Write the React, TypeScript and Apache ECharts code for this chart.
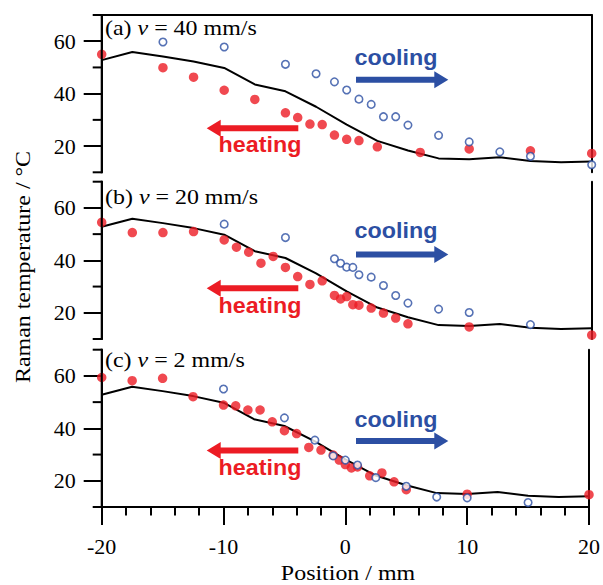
import React, { useEffect, useRef } from "react";
import * as echarts from "echarts";

// Axis ranges
const X_MIN = -20;
const X_MAX = 20;
const Y_MIN = 10;
const Y_MAX = 70;

// Simulation (black line), same in all panels
const simX = [-20, -17.5, -15, -12.5, -10, -7.5, -5, -2.5, 0, 2.5, 5, 7.5, 10, 12.5, 15, 17.5, 20];
const simT = [52.8, 55.9, 54.2, 52.3, 49.8, 43.5, 40.9, 35.0, 28.2, 22.0, 18.3, 15.3, 15.0, 15.7, 14.3, 13.8, 14.1];

// Panel (a) v = 40 mm/s
const heatAX = [-20, -15, -12.5, -10, -7.5, -5, -4, -3, -2, -1, 0, 1, 2.5, 6, 10, 15, 20];
const heatAT = [55.0, 49.9, 46.3, 41.3, 37.8, 32.7, 30.9, 28.4, 28.2, 24.2, 22.6, 22.1, 19.7, 17.6, 18.9, 18.2, 17.2];
const coolAX = [-15, -10, -5, -2.5, -1, 0, 1, 2, 3, 4, 5, 7.5, 10, 12.5, 15, 20];
const coolAT = [59.7, 57.8, 51.2, 47.6, 44.5, 41.4, 37.9, 35.9, 31.2, 31.2, 28.0, 24.1, 21.6, 17.8, 16.1, 12.9];

// Panel (b) v = 20 mm/s
const heatBX = [-20, -17.5, -15, -12.5, -10, -9, -8, -7, -6, -5, -4, -3, -2, -1, -0.5, 0, 0.5, 1, 2, 3, 4, 5, 10, 20];
const heatBT = [54.5, 50.6, 50.6, 51.0, 47.8, 45.0, 43.1, 38.9, 41.5, 37.3, 33.8, 30.8, 32.2, 26.6, 25.3, 26.2, 23.1, 22.9, 21.8, 19.9, 18.0, 15.8, 14.6, 11.5];
const coolBX = [-10, -5, -1, -0.5, 0, 0.5, 1, 2, 3, 4, 5, 7.5, 10, 15];
const coolBT = [53.8, 48.7, 40.6, 38.9, 37.4, 37.3, 34.5, 33.6, 30.4, 26.6, 23.7, 21.4, 20.1, 15.5];

// Panel (c) v = 2 mm/s
const heatCX = [-20, -17.5, -15, -12.5, -10, -9, -8, -7, -6, -5, -4, -3, -2, -1, -0.5, 0, 0.5, 1, 2, 3, 4, 5, 10, 20];
const heatCT = [59.4, 58.2, 59.1, 52.1, 48.9, 48.6, 47.0, 47.0, 42.5, 39.1, 38.0, 32.7, 31.7, 29.8, 27.9, 26.2, 24.9, 25.3, 21.9, 23.0, 19.6, 16.6, 14.9, 14.7];
const coolCX = [-10, -5, -2.5, -1, 0, 1, 2.5, 5, 7.5, 10, 15];
const coolCT = [55.0, 44.0, 35.5, 29.5, 27.9, 26.0, 21.2, 17.9, 13.8, 13.5, 11.7];

const panelLabels = ["(a) ", "(b) ", "(c) "];
const speeds = [" = 40 mm/s", " = 20 mm/s", " = 2 mm/s"];
const yTickLabels = [20, 40, 60];
const yMinorTicks = [10, 30, 50, 70];
const xTickLabels = [-20, -10, 0, 10, 20];

const heatingSets = [[heatAX, heatAT], [heatBX, heatBT], [heatCX, heatCT]];
const coolingSets = [[coolAX, coolAT], [coolBX, coolBT], [coolCX, coolCT]];

const RED = "#ec1c24";
const BLUE = "#2c4fa3";
const SERIF = "Liberation Serif";
const SANS = "Liberation Sans";

const GRID_LEFT = 101.7;
const GRID_W = 490;
const GRID_H = 157.3;
const GRID_TOPS = [15, 181.7, 349.7];
// annotation vertical positions per panel (pixel centres)
const ANN = [
  { cool: 57.4, blue: 79.7, red: 128.3, heat: 144.1, label: 28.0 },
  { cool: 230.7, blue: 254.5, red: 288.3, heat: 305.7, label: 196.9 },
  { cool: 419.0, blue: 441.0, red: 450.5, heat: 467.4, label: 359.9 },
];

function zip(xs: number[], ys: number[]) {
  return xs.map((x, i) => [x, ys[i]]);
}

function arrow(tail: number, tip: number, y: number, color: string) {
  const dir = tip > tail ? 1 : -1;
  const headLen = 14;
  const halfShaft = 3;
  const halfHead = 8.5;
  const base = tip - dir * headLen;
  return {
    type: "polygon",
    shape: {
      points: [
        [tail, y - halfShaft],
        [base, y - halfShaft],
        [base, y - halfHead],
        [tip, y],
        [base, y + halfHead],
        [base, y + halfShaft],
        [tail, y + halfShaft],
      ],
    },
    style: { fill: color },
    silent: true,
  };
}

const mkLine = () => ({ show: true, onZero: false, lineStyle: { color: "#000", width: 2 } });
const mkTickStyle = () => ({ color: "#000", width: 2 });

export default function App() {
  const ref = useRef<HTMLDivElement>(null);
  useEffect(() => {
    if (!ref.current) return;
    const chart = echarts.init(ref.current, undefined, { renderer: "svg" });

    const grid = GRID_TOPS.map((t) => ({ left: GRID_LEFT, top: t, width: GRID_W, height: GRID_H }));

    const xAxis: any[] = [];
    for (let i = 0; i < 3; i++) {
      const bottom = i === 2;
      xAxis.push({
        gridIndex: i,
        type: "value",
        min: X_MIN,
        max: X_MAX,
        interval: 2,
        position: "bottom",
        axisLine: bottom ? mkLine() : { show: false, onZero: false },
        axisTick: { show: bottom, length: 8.5, lineStyle: mkTickStyle() },
        axisLabel: { show: false },
        splitLine: { show: false },
      });
    }
    xAxis.push({
      gridIndex: 2,
      type: "value",
      min: X_MIN,
      max: X_MAX,
      interval: 10,
      position: "bottom",
      axisLine: { show: false, onZero: false },
      axisTick: { show: true, length: 18, lineStyle: mkTickStyle() },
      axisLabel: {
        show: true,
        margin: 28,
        fontFamily: SERIF,
        fontSize: 22,
        color: "#000",
        customValues: xTickLabels,
      },
      splitLine: { show: false },
    });
    xAxis.push({
      gridIndex: 0,
      type: "value",
      min: X_MIN,
      max: X_MAX,
      position: "top",
      axisLine: mkLine(),
      axisTick: { show: false },
      axisLabel: { show: false },
      splitLine: { show: false },
    });

    const yAxis: any[] = [];
    for (let i = 0; i < 3; i++) {
      yAxis.push({
        gridIndex: i,
        type: "value",
        min: Y_MIN,
        max: Y_MAX,
        interval: 10,
        position: "left",
        axisLine: mkLine(),
        axisTick: { show: true, length: 18, lineStyle: mkTickStyle(), customValues: yTickLabels },
        axisLabel: {
          show: true,
          margin: 26,
          fontFamily: SERIF,
          fontSize: 22,
          color: "#000",
          customValues: yTickLabels,
        },
        splitLine: { show: false },
      });
      yAxis.push({
        gridIndex: i,
        type: "value",
        min: Y_MIN,
        max: Y_MAX,
        position: "right",
        axisLine: mkLine(),
        axisTick: { show: false },
        axisLabel: { show: false },
        splitLine: { show: false },
      });
    }

    const series: any[] = [];
    for (let i = 0; i < 3; i++) {
      series.push({
        type: "line",
        xAxisIndex: i,
        yAxisIndex: 2 * i,
        data: zip(simX, simT),
        showSymbol: false,
        symbol: "none",
        lineStyle: { color: "#000", width: 2 },
        clip: false,
        z: 2,
      });
      series.push({
        type: "scatter",
        xAxisIndex: i,
        yAxisIndex: 2 * i,
        data: zip(heatingSets[i][0], heatingSets[i][1]),
        symbol: "circle",
        symbolSize: 9.5,
        itemStyle: { color: RED },
        clip: false,
        z: 3,
      });
      series.push({
        type: "scatter",
        xAxisIndex: i,
        yAxisIndex: 2 * i,
        data: zip(coolingSets[i][0], coolingSets[i][1]),
        symbol: "circle",
        symbolSize: 7.5,
        itemStyle: { color: "#fff", borderColor: BLUE, borderWidth: 1.6 },
        clip: false,
        z: 4,
      });
    }

    const graphic: any[] = [];
    // left frame edge and its short ticks (panel frame), as thin filled rects on top
    const yPx = (i: number, v: number) =>
      GRID_TOPS[i] + ((Y_MAX - v) / (Y_MAX - Y_MIN)) * GRID_H;
    for (let i = 0; i < 3; i++) {
      graphic.push({
        type: "rect",
        z: 1000,
        silent: true,
        shape: { x: GRID_LEFT - 1, y: GRID_TOPS[i] - 1, width: 2, height: GRID_H + 2 },
        style: { fill: "#000" },
      });
      for (const v of yMinorTicks) {
        graphic.push({
          type: "rect",
          z: 1000,
          silent: true,
          shape: { x: GRID_LEFT - 9, y: yPx(i, v) - 1, width: 9, height: 2 },
          style: { fill: "#000" },
        });
      }
    }
    for (let i = 0; i < 3; i++) {
      const a = ANN[i];
      graphic.push({
        type: "text",
        x: 105,
        y: a.label,
        scaleX: 1.14,
        silent: true,
        style: {
          text: `{n|${panelLabels[i]}}{i|v}{n|${speeds[i]}}`,
          align: "left",
          verticalAlign: "middle",
          fill: "#000",
          fontFamily: SERIF,
          fontSize: 21,
          rich: {
            n: { fontFamily: SERIF, fontSize: 21, fill: "#000" },
            i: { fontFamily: SERIF, fontSize: 21, fontStyle: "italic", fill: "#000" },
          },
        },
      });
      graphic.push({
        type: "text",
        x: 396,
        y: a.cool,
        scaleX: 1.06,
        silent: true,
        style: {
          text: "cooling",
          align: "center",
          verticalAlign: "middle",
          fill: BLUE,
          fontFamily: SANS,
          fontWeight: "bold",
          fontSize: 22,
        },
      });
      graphic.push(arrow(356, 448.3, a.blue, BLUE));
      graphic.push(arrow(298.3, 206.7, a.red, RED));
      graphic.push({
        type: "text",
        x: 260,
        y: a.heat,
        scaleX: 1.06,
        silent: true,
        style: {
          text: "heating",
          align: "center",
          verticalAlign: "middle",
          fill: RED,
          fontFamily: SANS,
          fontWeight: "bold",
          fontSize: 22,
        },
      });
    }
    graphic.push({
      type: "text",
      x: 23.5,
      y: 267,
      rotation: Math.PI / 2,
      silent: true,
      style: {
        text: "Raman temperature / °C",
        align: "center",
        verticalAlign: "middle",
        fill: "#000",
        fontFamily: SERIF,
        fontSize: 21,
      },
      scaleX: 1.14,
    });
    graphic.push({
      type: "text",
      x: 348,
      y: 573,
      scaleX: 1.14,
      silent: true,
      style: {
        text: "Position / mm",
        align: "center",
        verticalAlign: "middle",
        fill: "#000",
        fontFamily: SERIF,
        fontSize: 21,
      },
    });

    chart.setOption({
      animation: false,
      backgroundColor: "#fff",
      grid,
      xAxis,
      yAxis,
      series,
      graphic,
    });
    return () => chart.dispose();
  }, []);
  return (
    <div
      ref={ref}
      style={{ position: "fixed", left: 0, top: 0, width: 603, height: 585 }}
    />
  );
}
